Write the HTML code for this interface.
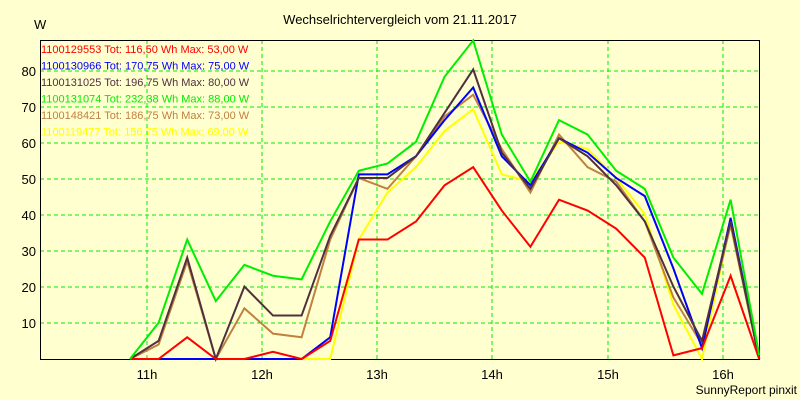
<!DOCTYPE html>
<html><head><style>
body{margin:0;background:#ffffd0;}
svg{display:block;font-family:"Liberation Sans",sans-serif;}
</style></head><body>
<svg width="800" height="400" xmlns="http://www.w3.org/2000/svg">
<rect width="800" height="400" fill="#ffffd0"/>
<text x="400" y="24" font-size="13" text-anchor="middle">Wechselrichtervergleich vom 21.11.2017</text>
<text x="34" y="29" font-size="13">W</text>
<g stroke="#00ee00" stroke-dasharray="4,3" stroke-width="1">
<line x1="40" x2="759" y1="323" y2="323"/><line x1="40" x2="759" y1="287" y2="287"/>
<line x1="40" x2="759" y1="251" y2="251"/><line x1="40" x2="759" y1="215" y2="215"/>
<line x1="40" x2="759" y1="179" y2="179"/><line x1="40" x2="759" y1="143" y2="143"/>
<line x1="40" x2="759" y1="107" y2="107"/><line x1="40" x2="759" y1="71" y2="71"/>
<line x1="147" x2="147" y1="40" y2="359"/><line x1="262" x2="262" y1="40" y2="359"/>
<line x1="377" x2="377" y1="40" y2="359"/><line x1="492" x2="492" y1="40" y2="359"/>
<line x1="608" x2="608" y1="40" y2="359"/><line x1="723" x2="723" y1="40" y2="359"/>
</g>
<rect x="40.5" y="40.5" width="719" height="319" fill="none" stroke="#000"/>
<g font-size="13" text-anchor="end">
<text x="36" y="328">10</text><text x="36" y="292">20</text><text x="36" y="256">30</text>
<text x="36" y="220">40</text><text x="36" y="184">50</text><text x="36" y="148">60</text>
<text x="36" y="112">70</text><text x="36" y="76">80</text>
</g>
<g font-size="13" text-anchor="middle">
<text x="147" y="379">11h</text><text x="262" y="379">12h</text><text x="377" y="379">13h</text>
<text x="492" y="379">14h</text><text x="608" y="379">15h</text><text x="723" y="379">16h</text>
</g>
<text x="797" y="394" font-size="12" text-anchor="end">SunnyReport pinxit</text>
<g transform="translate(130,359) scale(28.6,-3.62)" fill="none" stroke-width="2" stroke-linejoin="miter">
<polyline vector-effect="non-scaling-stroke" stroke="#ffff00" points="0,0 1,0 2,0 3,0 4,0 5,0 6,0 7,0 8,33 9,46 10,53 11,63 12,69 13,51 14,49 15,60 16,58 17,50 18,40 19,15 20,0 21,38 22,0"/>
<polyline vector-effect="non-scaling-stroke" stroke="#c08040" points="0,0 1,4 2,27 3,0 4,14 5,7 6,6 7,33 8,50 9,47 10,56 11,67 12,73 13,58 14,46 15,62 16,53 17,49 18,38 19,17 20,4 21,37 22,0"/>
<polyline vector-effect="non-scaling-stroke" stroke="#0000ff" points="0,0 1,0 2,0 3,0 4,0 5,0 6,0 7,6 8,51 9,51 10,56 11,66 12,75 13,56 14,48 15,61 16,57 17,50 18,45 19,25 20,3 21,39 22,0"/>
<polyline vector-effect="non-scaling-stroke" stroke="#503040" points="0,0 1,5 2,28 3,0 4,20 5,12 6,12 7,34 8,50 9,50 10,56 11,68 12,80 13,57 14,47 15,61 16,56 17,48 18,38 19,20 20,5 21,38 22,0"/>
<polyline vector-effect="non-scaling-stroke" stroke="#ff0000" points="0,0 1,0 2,6 3,0 4,0 5,2 6,0 7,5 8,33 9,33 10,38 11,48 12,53 13,41 14,31 15,44 16,41 17,36 18,28 19,1 20,3 21,23 22,0"/>
<polyline vector-effect="non-scaling-stroke" stroke="#00ee00" points="0,0 1,10 2,33 3,16 4,26 5,23 6,22 7,38 8,52 9,54 10,60 11,78 12,88 13,62 14,49 15,66 16,62 17,52 18,47 19,28 20,18 21,44 22,1"/>
</g>
<g font-size="11">
<text x="41" y="53" fill="#ff0000">1100129553 Tot: 116,50 Wh Max: 53,00 W</text>
<text x="41" y="69.5" fill="#0000ff">1100130966 Tot: 170,75 Wh Max: 75,00 W</text>
<text x="41" y="86" fill="#503040">1100131025 Tot: 196,75 Wh Max: 80,00 W</text>
<text x="41" y="102.5" fill="#00ee00">1100131074 Tot: 232,38 Wh Max: 88,00 W</text>
<text x="41" y="119" fill="#c08040">1100148421 Tot: 186,75 Wh Max: 73,00 W</text>
<text x="41" y="135.5" fill="#ffff00">1100119477 Tot: 156,75 Wh Max: 69,00 W</text>
</g>
</svg>
</body></html>
